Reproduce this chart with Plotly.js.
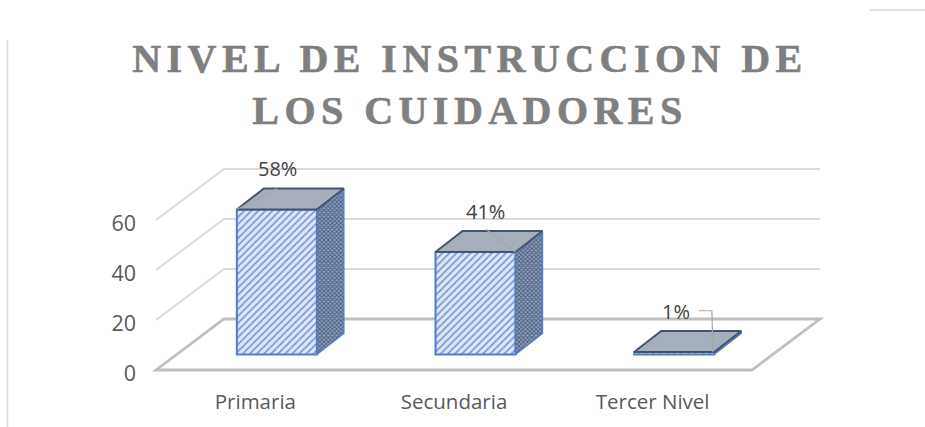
<!DOCTYPE html>
<html><head><meta charset="utf-8">
<script src="https://cdn.plot.ly/plotly-3.0.1.min.js"></script>
<style>
html,body{margin:0;padding:0;background:#fff}
.gtitle{letter-spacing:5.45px;stroke:#7f7f7f;stroke-width:0.6px}
</style></head><body><div id="chart" style="width:925px;height:427px"></div>
<script>
const categories = ["Primaria","Secundaria","Tercer Nivel"];
const values = [58,41,1];
const percentLabels = ["58%","41%","1%"];
const yTicks = [0,20,40,60];
const titleText = "NIVEL DE INSTRUCCION DE<br>LOS CUIDADORES";

// projection of the fake 3-D: floor depth and bar placement, in axis units
const pxX = 198.67, pxY = 2.5;
const floorDX = 68/pxX, floorDY = 20.4;
const barW = 80/pxX, barShift = 21.5/pxX, barLift = 6.2;
const depthDX = 27/pxX, depthDY = 8.4;
const GRID = "#d9d9d9", FLOOR = "#bfbfbf", BLUE = "#4f7ccb", SLATE = "#44546a";

const xL = -0.5, xR = categories.length - 0.5;
const barX = categories.map((_,i)=>i+barShift);

const traces = [{
  type:"bar", x:barX, y:values, base:values.map(()=>barLift), width:barW,
  marker:{color:"#dae3f3",line:{color:BLUE,width:2},
    pattern:{shape:"/",fgcolor:"#6f93d6",bgcolor:"#dde6f5",size:5,solidity:0.32}},
  hoverinfo:"skip", showlegend:false
}];
values.forEach((v,i)=>{
  const x0=barX[i]-barW/2, x1=barX[i]+barW/2, b=barLift, t=barLift+v;
  // right side
  traces.push({type:"scatter",mode:"lines",x:[x1,x1+depthDX,x1+depthDX,x1,x1],y:[b,b+depthDY,t+depthDY,t,b],
    fill:"toself",fillcolor:"#6f80a0",
    fillpattern:{shape:"x",fgcolor:"#4a5b78",bgcolor:"#8fa3c4",size:3,solidity:0.5},
    line:{color:BLUE,width:1.4},hoverinfo:"skip",showlegend:false,cliponaxis:false});
  // top
  traces.push({type:"scatter",mode:"lines",x:[x0,x0+depthDX,x1+depthDX,x1,x0],y:[t,t+depthDY,t+depthDY,t,t],
    fill:"toself",fillcolor:"#a5aeba",line:{color:SLATE,width:2},hoverinfo:"skip",showlegend:false,cliponaxis:false});
});
// leader lines from label to top face
const leaders = [
  {x:[barX[0]-barW/2, barX[0]], y:[barLift+values[0], barLift+values[0]+depthDY]},
  {x:[barX[1]+barW/2, barX[1]+0.055], y:[barLift+values[1], barLift+values[1]+depthDY+0.6]},
  {x:[barX[2]+0.125, barX[2]+0.19, barX[2]+0.195], y:[barLift+values[2]+16.5, barLift+values[2]+16.5, barLift+values[2]]}
];
leaders.forEach(l=>traces.push({type:"scatter",mode:"lines",x:l.x,y:l.y,line:{color:"#a6a6a6",width:1.2},hoverinfo:"skip",showlegend:false,cliponaxis:false}));

// wall gridlines and floor, placed below the bars
const shapes = [];
yTicks.forEach(v=>{
  const isFloor = v===0;
  shapes.push({type:"path",layer:"below",xref:"x",yref:"y",
    path:`M${xL},${v} L${xL+floorDX},${v+floorDY} L${xR+floorDX},${v+floorDY}`+(isFloor?` L${xR},${v} Z`:""),
    line:{color:isFloor?FLOOR:GRID,width:isFloor?2.8:1.8}});
});
// page furniture around the pasted chart
shapes.push({type:"line",layer:"below",xref:"paper",yref:"paper",x0:(7.5-150)/680,x1:(7.5-150)/680,y0:(387-40)/287,y1:(387-427)/287,line:{color:"#d9d9d9",width:1.5}});
shapes.push({type:"line",layer:"below",xref:"paper",yref:"paper",x0:(870-150)/680,x1:(925-150)/680,y0:(387-10)/287,y1:(387-10)/287,line:{color:"#d9d9d9",width:1.5}});

const annOff = [[0.005,8.1],[0.05,7.7],[0.01,7.9]];
const annotations = values.map((v,i)=>({
  x:barX[i]+annOff[i][0], y:barLift+v+depthDY+annOff[i][1], xref:"x", yref:"y",
  text:percentLabels[i], showarrow:false, xanchor:"center", yanchor:"middle",
  font:{family:"Open Sans",size:20,color:"#404040"}
}));

const layout = {
  width:925,height:427,paper_bgcolor:"#fff",plot_bgcolor:"rgba(0,0,0,0)",
  margin:{l:150,r:95,t:100,b:40,pad:0},
  title:{text:titleText,xref:"paper",x:(470-150)/680,xanchor:"center",yref:"container",y:0.831,yanchor:"top",pad:{t:0,b:0},
    font:{family:"Liberation Serif",size:40,color:"#7f7f7f",weight:700}},
  xaxis:{range:[xL-6/pxX, xL+674/pxX],tickvals:categories.map((_,i)=>i),ticktext:categories,
    showgrid:false,zeroline:false,showline:false,ticks:"",fixedrange:true,
    tickfont:{family:"Open Sans",size:20.5,color:"#595959"}},
  yaxis:{range:[-17/pxY,270/pxY],tickvals:yTicks,ticktext:yTicks.map(String),
    showgrid:false,zeroline:false,showline:false,ticks:"",fixedrange:true,ticklabelstandoff:13,ticklabelshift:3,
    tickfont:{family:"Open Sans",size:21.5,color:"#595959"}},
  bargap:0,showlegend:false,shapes,annotations
};
Plotly.newPlot("chart",traces,layout,{displayModeBar:false,staticPlot:true});
</script></body></html>
